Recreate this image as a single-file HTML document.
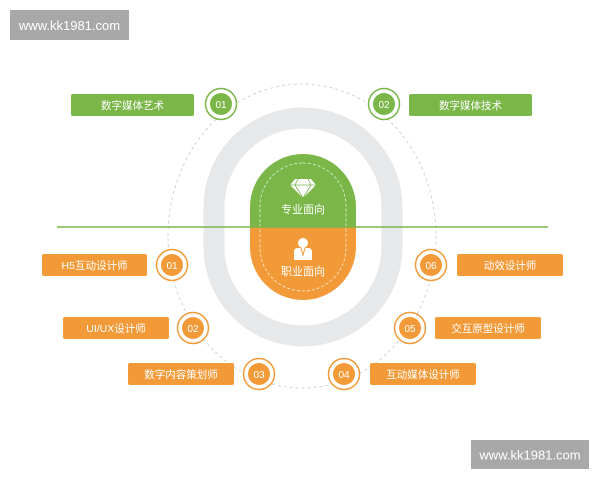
<!DOCTYPE html>
<html><head><meta charset="utf-8"><style>
html,body{margin:0;padding:0;background:#fff}
svg{display:block}
text{font-family:"Liberation Sans","Noto Sans CJK SC",sans-serif}
</style></head><body>
<svg width="600" height="480" viewBox="0 0 600 480" xmlns="http://www.w3.org/2000/svg">
<rect x="10" y="10" width="119" height="30" fill="#a8a8a8"/>
<text x="69.5" y="30" font-size="13" fill="#fff" text-anchor="middle">www.kk1981.com</text>
<rect x="471" y="440" width="118" height="29" fill="#a8a8a8"/>
<text x="530" y="459.5" font-size="13" fill="#fff" text-anchor="middle">www.kk1981.com</text>

<ellipse cx="302" cy="236" rx="134" ry="152" fill="none" stroke="#c8c8c8" stroke-width="0.8" stroke-dasharray="3,3"/>
<rect x="214" y="118" width="178" height="218" rx="89" fill="none" stroke="#e7e8ea" stroke-width="21"/>

<path d="M250 227 V207 A53 53 0 0 1 356 207 V227 Z" fill="#7ab648"/>
<path d="M250 227 V247 A53 53 0 0 0 356 247 V227 Z" fill="#f39a38"/>
<rect x="260" y="163" width="86" height="128" rx="43" fill="none" stroke="#fff" stroke-width="0.8" stroke-dasharray="3,2" opacity="0.8"/>
<line x1="57" y1="227" x2="548" y2="227" stroke="#7ab648" stroke-width="1.5"/>

<!-- diamond -->
<path d="M295 179 h16 l5 6 l-13 13 l-13 -13 z" fill="#fff"/>
<path d="M290 185 h26 M298 179 l-3 6 l8 13 l8 -13 l-3 -6" stroke="#7ab648" stroke-width="0.8" fill="none"/>
<text x="303" y="213" font-size="11" fill="#fff" text-anchor="middle">专业面向</text>
<!-- person -->
<circle cx="303" cy="243" r="5" fill="#fff"/>
<path d="M294 260 v-8 q0 -4 4 -4 h10 q4 0 4 4 v8 z" fill="#fff"/>
<path d="M301 248 l2 7 l2 -7" stroke="#f39a38" stroke-width="1" fill="none"/>
<text x="303" y="275" font-size="11" fill="#fff" text-anchor="middle">职业面向</text>

<g font-size="10.5" fill="#fff" text-anchor="middle">
<rect x="71" y="94" width="123" height="22" rx="2" fill="#7ab648"/><text x="132.5" y="109">数字媒体艺术</text>
<rect x="409" y="94" width="123" height="22" rx="2" fill="#7ab648"/><text x="470.5" y="109">数字媒体技术</text>
<rect x="42" y="254" width="105" height="22" rx="2" fill="#f39a38"/><text x="94.5" y="269">H5互动设计师</text>
<rect x="63" y="317" width="106" height="22" rx="2" fill="#f39a38"/><text x="116" y="332">UI/UX设计师</text>
<rect x="128" y="363" width="106" height="22" rx="2" fill="#f39a38"/><text x="181" y="378">数字内容策划师</text>
<rect x="370" y="363" width="106" height="22" rx="2" fill="#f39a38"/><text x="423" y="378">互动媒体设计师</text>
<rect x="435" y="317" width="106" height="22" rx="2" fill="#f39a38"/><text x="488" y="332">交互原型设计师</text>
<rect x="457" y="254" width="106" height="22" rx="2" fill="#f39a38"/><text x="510" y="269">动效设计师</text>
</g>

<g font-size="10" text-anchor="middle">
<g fill="#7ab648" stroke="#7ab648">
<circle cx="221" cy="104" r="15.5" fill="#fff" stroke-width="1.5"/><circle cx="221" cy="104" r="11" stroke="none"/>
<circle cx="384" cy="104" r="15.5" fill="#fff" stroke-width="1.5"/><circle cx="384" cy="104" r="11" stroke="none"/>
</g>
<g fill="#f39a38" stroke="#f39a38">
<circle cx="172" cy="265" r="15.5" fill="#fff" stroke-width="1.5"/><circle cx="172" cy="265" r="11" stroke="none"/>
<circle cx="193" cy="328" r="15.5" fill="#fff" stroke-width="1.5"/><circle cx="193" cy="328" r="11" stroke="none"/>
<circle cx="259" cy="374" r="15.5" fill="#fff" stroke-width="1.5"/><circle cx="259" cy="374" r="11" stroke="none"/>
<circle cx="344" cy="374" r="15.5" fill="#fff" stroke-width="1.5"/><circle cx="344" cy="374" r="11" stroke="none"/>
<circle cx="410" cy="328" r="15.5" fill="#fff" stroke-width="1.5"/><circle cx="410" cy="328" r="11" stroke="none"/>
<circle cx="431" cy="265" r="15.5" fill="#fff" stroke-width="1.5"/><circle cx="431" cy="265" r="11" stroke="none"/>
</g>
<g fill="#fff">
<text x="221" y="108">01</text><text x="384" y="108">02</text>
<text x="172" y="269">01</text><text x="193" y="332">02</text><text x="259" y="378">03</text>
<text x="344" y="378">04</text><text x="410" y="332">05</text><text x="431" y="269">06</text>
</g>
</g>
</svg>
</body></html>
